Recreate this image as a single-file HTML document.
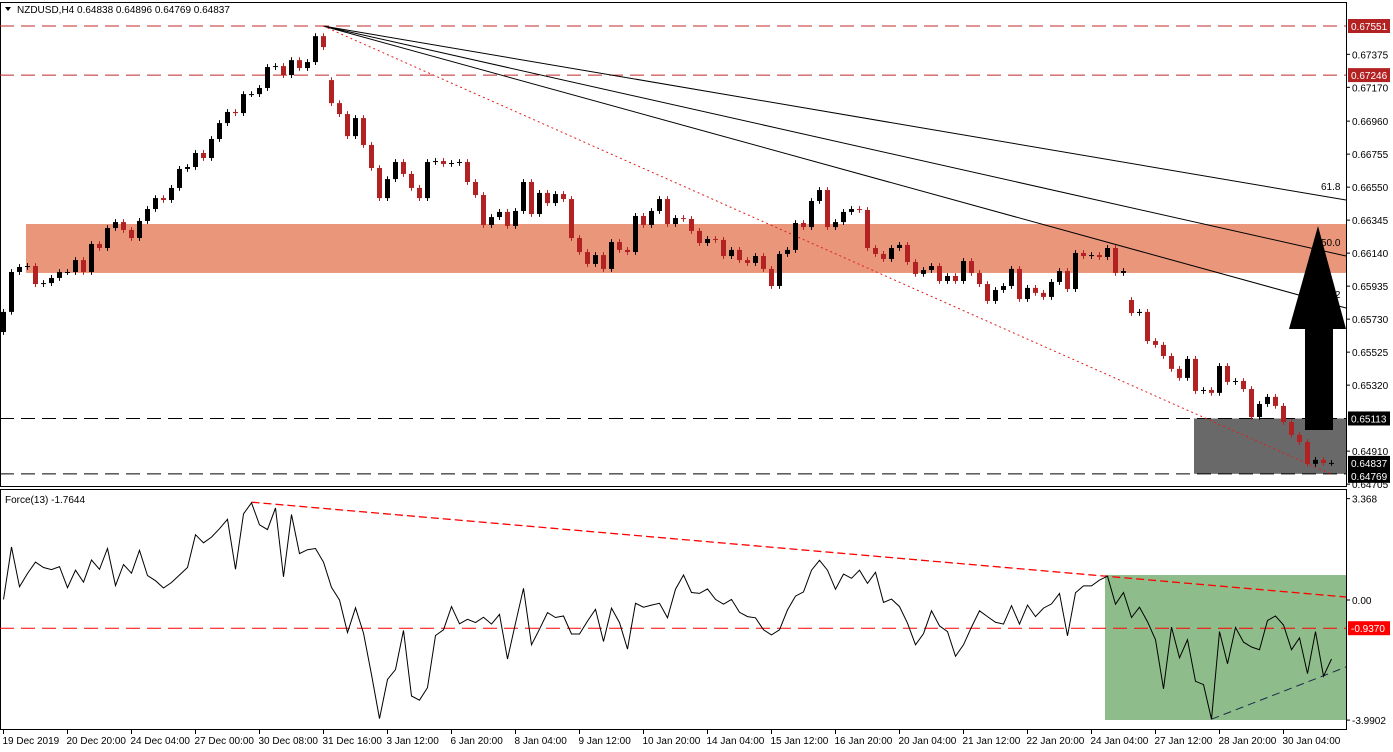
<!DOCTYPE html>
<html><head><meta charset="utf-8">
<style>
html,body{margin:0;padding:0;background:#fff;}
svg{display:block;font-family:"Liberation Sans",Arial,sans-serif;}
</style></head>
<body>
<svg id="chart" width="1393" height="752" viewBox="0 0 1393 752" xmlns="http://www.w3.org/2000/svg"></svg>
<script>
const closes=[.65775,.66023,.66054,.66060,.65948,.65954,.65986,.66023,.66023,.66097,
.66023,.66197,.66172,.66296,.66333,.66284,.66234,.66340,.66414,.66482,
.66470,.66545,.66663,.66675,.66762,.66731,.66849,.66948,.67017,.67010,
.67128,.67128,.67166,.67296,.67302,.67246,.67339,.67290,.67327,.67488,
.67420,.67072,.67004,.66867,.66979,.66812,.66669,.66482,.66600,.66706,
.66632,.66545,.66482,.66706,.66712,.66694,.66700,.66706,.66582,.66501,
.66315,.66364,.66396,.66309,.66402,.66582,.66383,.66514,.66451,.66507,
.66476,.66234,.66147,.66073,.66128,.66042,.66209,.66160,.66147,.66371,
.66315,.66402,.66476,.66321,.66358,.66352,.66278,.66203,.66228,.66222,
.66122,.66160,.66097,.66079,.66122,.66042,.65936,.66135,.66160,.66327,
.66302,.66464,.66532,.66302,.66333,.66396,.66414,.66408,.66172,.66135,
.66104,.66172,.66191,.66085,.66011,.66035,.66060,.65967,.65998,.65967,
.66091,.66017,.65948,.65843,.65911,.65936,.66042,.65855,.65924,.65893,
.65868,.65961,.66029,.65917,.66141,.66122,.66128,.66116,.66172,.66017,
.66029,.65768,.65775,.65594,.65570,.65501,.65421,.65365,.65483,.65284,
.65290,.65272,.65439,.65340,.65346,.65296,.65122,.65203,.65247,.65191,
.65091,.65011,.64967,.64831,.64856,.64837,.64837];
const firstOpen=0.65650;
const gapOpens={41:0.67215,141:0.65849};
const force=[0.02,1.76,0.44,0.88,1.26,1.08,1.01,1.11,0.41,0.99,
0.59,1.33,1.02,1.71,0.48,1.18,0.89,1.65,0.81,0.64,
0.40,0.58,0.83,1.08,2.17,1.90,2.09,2.37,2.68,1.02,
2.86,3.23,2.50,2.34,3.06,0.77,2.84,1.54,1.67,1.71,
1.26,0.42,0.00,-1.08,-0.26,-1.10,-2.48,-3.94,-2.64,-2.31,
-1.01,-3.19,-3.33,-2.91,-1.18,-0.99,-0.22,-0.79,-0.64,-0.75,
-0.57,-0.80,-0.48,-1.96,-0.77,0.39,-1.49,-0.97,-0.42,-0.58,
-0.53,-1.13,-1.13,-0.70,-0.31,-1.38,-0.27,-0.75,-1.63,-0.11,
-0.24,-0.17,-0.11,-0.59,0.36,0.83,0.25,0.22,
0.37,0.02,-0.14,0.02,-0.41,-0.55,-0.59,-0.99,-1.16,-0.99,
-0.33,0.13,0.27,0.99,1.32,0.99,0.36,0.86,0.72,0.99,
0.55,0.92,-0.08,0.03,-0.22,-0.77,-1.49,-1.12,-0.36,-0.86,
-1.05,-1.87,-1.49,-0.90,-0.36,-0.55,-0.74,-0.80,-0.19,-0.80,
-0.17,-0.55,-0.27,-0.13,0.22,-1.19,0.24,0.47,0.47,0.66,
0.79,-0.14,0.25,-0.58,-0.24,-0.72,-1.32,-2.95,-0.90,-1.92,
-1.32,-2.70,-2.81,-3.96,-1.05,-2.12,-0.91,-1.40,-1.56,-1.65,
-0.68,-0.53,-0.83,-1.65,-1.26,-2.45,-1.05,-2.53,-1.96];
const priceTicks=[0.67375,0.67170,0.66960,0.66755,0.66550,0.66345,0.66140,0.65935,0.65730,0.65525,0.65320,0.64910,0.64705];
const timeLabels=["19 Dec 2019","20 Dec 20:00","24 Dec 04:00","27 Dec 00:00","30 Dec 08:00","31 Dec 16:00","3 Jan 12:00","6 Jan 20:00","8 Jan 04:00","9 Jan 12:00","10 Jan 20:00","14 Jan 04:00","15 Jan 12:00","16 Jan 20:00","20 Jan 04:00","21 Jan 12:00","22 Jan 20:00","24 Jan 04:00","27 Jan 12:00","28 Jan 20:00","30 Jan 04:00"];
const resistLevels=[0.67551,0.67246];
const supportLevels=[0.65113,0.64769];
const zoneTop=0.66321, zoneBot=0.66017;
const forceLevel=-0.9370;

const svg=document.getElementById('chart');
const NS='http://www.w3.org/2000/svg';
const X=i=>3.5+i*8;
const Y=p=>26+(0.67551-p)*16098;
const FY=v=>600-v*30.1;
const R=1346;
function el(tag,attrs,parent){const e=document.createElementNS(NS,tag);for(const k in attrs)e.setAttribute(k,attrs[k]);(parent||svg).appendChild(e);return e;}
function txt(s,x,y,attrs,parent){const t=el('text',Object.assign({x:x,y:y,'font-size':'10',fill:'#000'},attrs),parent);t.textContent=s;return t;}

let f=el('rect',{x:0.5,y:2.5,width:R,height:484,fill:'none',stroke:'#000'});

f=el('rect',{x:0.5,y:489.5,width:R,height:240,fill:'none',stroke:'#000'});


let z=el('rect',{x:26,y:Y(zoneTop),width:R-26,height:Y(zoneBot)-Y(zoneTop),fill:'#e9967a'});

let g=el('rect',{x:1194,y:Y(supportLevels[0]),width:R-1194,height:Y(supportLevels[1])-Y(supportLevels[0]),fill:'#696969'});


resistLevels.forEach(p=>{const l=el('line',{x1:0,x2:R,y1:Y(p),y2:Y(p),stroke:'#c0282a','stroke-width':1,'stroke-dasharray':'14 7'});
});
supportLevels.forEach(p=>{const l=el('line',{x1:0,x2:R,y1:Y(p),y2:Y(p),stroke:'#000','stroke-width':1,'stroke-dasharray':'14 7'});
});

const fx=323, fy=Y(0.67551);
[[200,'61.8'],[256,'50.0'],[308,'38.2']].forEach(([ey,lab])=>{const l=el('line',{x1:fx,y1:fy,x2:R,y2:ey,stroke:'#000','stroke-width':1});

const t=txt(lab,1321,ey-10,{});});
let dl=el('line',{x1:fx,y1:fy,x2:1331,y2:474,stroke:'#e02020','stroke-width':1,'stroke-dasharray':'2 3'});


let prev=firstOpen;
closes.forEach((c,i)=>{const o=(gapOpens[i]!==undefined)?gapOpens[i]:prev;prev=c;
const hi=Math.max(o,c)+0.00018, lo=Math.min(o,c)-0.00018;
const col=c>=o?'#000':'#b22222';const x=X(i);
const w=el('line',{x1:x,x2:x,y1:Y(hi),y2:Y(lo),stroke:col,'stroke-width':1});

const top=Y(Math.max(o,c)),bh=Math.max(1,Y(Math.min(o,c))-top);
const b=el('rect',{x:x-2.5,y:top,width:5,height:bh,fill:col});
});

let ar=el('polygon',{points:'1305,430 1333,430 1333,329 1346,329 1318,226 1289,329 1305,329',fill:'#000'});


priceTicks.forEach(p=>{const y=Y(p);el('line',{x1:R,x2:R+4,y1:y,y2:y,stroke:'#000'});
const t=txt(p.toFixed(5),1352,y+4,{});});
function badge(v,y,bg,name,digits){const r=el('rect',{x:1348,y:y-7,width:42,height:14,fill:bg});

const t=txt(typeof v==='number'?v.toFixed(digits||5):v,1351,y+4,{fill:'#fff'});}
badge(resistLevels[0],Y(resistLevels[0]),'#b22222','resistance-price-tag');
badge(resistLevels[1],Y(resistLevels[1]),'#b22222','resistance-price-tag');
badge(supportLevels[0],Y(supportLevels[0]),'#000','support-price-tag');
badge(closes[closes.length-1],Y(closes[closes.length-1]),'#000','current-price-tag');
badge(supportLevels[1],Y(supportLevels[1])+2,'#000','low-price-tag');

let tri=el('polygon',{points:'5,7 11,7 8,11',fill:'#000'});

let tt=txt('NZDUSD,H4  0.64838 0.64896 0.64769 0.64837',17,13,{'xml:space':'preserve'});


let gb=el('rect',{x:1105,y:575,width:R-1105,height:145,fill:'#8fbc8b'});

let fl=el('line',{x1:0,x2:R,y1:FY(forceLevel),y2:FY(forceLevel),stroke:'#ff0000','stroke-dasharray':'14 7'});

let ft=el('line',{x1:X(31),y1:FY(3.25),x2:R,y2:597,stroke:'#ff0000','stroke-width':1.3,'stroke-dasharray':'8 4'});

let fs=el('line',{x1:X(151),y1:FY(force[151]),x2:R,y2:667,stroke:'#1a2a4a','stroke-width':1,'stroke-dasharray':'8 5'});

let pts=force.map((v,i)=>X(i).toFixed(1)+','+FY(v).toFixed(1)).join(' ');
let fp=el('polyline',{points:pts,fill:'none',stroke:'#000','stroke-width':1});

let flab=txt('Force(13) -1.7644',5,503,{});
[[3.368,'3.368'],[0,'0.00'],[-3.9902,'-3.9902']].forEach(([v,s])=>{const y=FY(v);el('line',{x1:R,x2:R+4,y1:y,y2:y,stroke:'#000'});
const t=txt(s,1352,y+4,{});});
badge('-0.9370',FY(forceLevel),'#ff0000','force-level-tag');

timeLabels.forEach((s,k)=>{const x=X(k*8);el('line',{x1:x,x2:x,y1:730,y2:734,stroke:'#000'});
const t=txt(s,x-1,744,{});});
</script>
</body></html>
